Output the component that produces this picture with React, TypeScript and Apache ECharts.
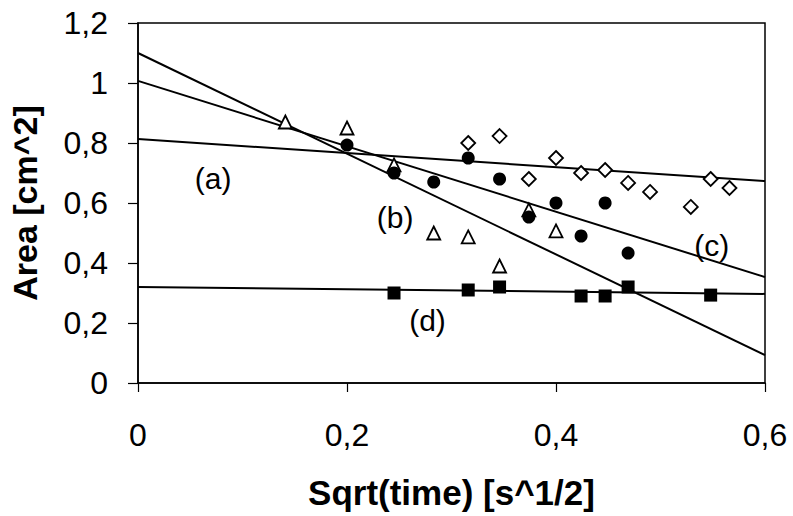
import React, { useEffect, useRef } from "react";
import * as echarts from "echarts";

// sqrt(time) values and measured areas
const triX = [0.141, 0.2, 0.245, 0.283, 0.316, 0.346, 0.374, 0.4];
const triY = [0.87, 0.85, 0.727, 0.5, 0.487, 0.39, 0.577, 0.507];

const circX = [0.2, 0.245, 0.283, 0.316, 0.346, 0.374, 0.4, 0.424, 0.447, 0.469];
const circY = [0.793, 0.7, 0.67, 0.75, 0.68, 0.553, 0.6, 0.49, 0.6, 0.433];

const diamX = [0.316, 0.346, 0.374, 0.4, 0.424, 0.447, 0.469, 0.49, 0.529, 0.548, 0.566];
const diamY = [0.8, 0.823, 0.68, 0.75, 0.7, 0.71, 0.667, 0.637, 0.587, 0.68, 0.65];

const sqX = [0.245, 0.316, 0.346, 0.424, 0.447, 0.469, 0.548];
const sqY = [0.3, 0.31, 0.32, 0.29, 0.29, 0.32, 0.293];

// fitted lines: [x0, y0, x1, y1]
const lineB = [0, 1.1, 0.6, 0.093];
const lineC = [0, 1.007, 0.6, 0.353];
const lineA = [0, 0.813, 0.6, 0.673];
const lineD = [0, 0.32, 0.6, 0.297];

const curveLabels = ["(a)", "(b)", "(c)", "(d)"];
const curveLabelX = [0.0718, 0.246, 0.549, 0.277];
const curveLabelY = [0.683, 0.553, 0.457, 0.21];

const xTicks = [0, 0.2, 0.4, 0.6];
const yTicks = [0, 0.2, 0.4, 0.6, 0.8, 1, 1.2];

const FONT = "'Liberation Sans', Arial, sans-serif";

const zip = (xs: number[], ys: number[]) => xs.map((x, i) => [x, ys[i]]);
const seg = (l: number[]) => [
  [l[0], l[1]],
  [l[2], l[3]],
];
const fmt = (v: number) => String(Math.round(v * 10) / 10).replace(".", ",");

export default function App() {
  const ref = useRef<HTMLDivElement>(null);
  useEffect(() => {
    if (!ref.current) return;
    const chart = echarts.init(ref.current, null, { renderer: "svg" });
    const lineStyle = { color: "#000", width: 2 };
    const lineSeries = (l: number[]) => ({
      type: "line",
      data: seg(l),
      showSymbol: false,
      symbol: "none",
      lineStyle,
      z: 2,
      silent: true,
    });
    const open = { color: "#fff", borderColor: "#000", borderWidth: 1.8, opacity: 1 };
    const filled = { color: "#000", opacity: 1 };
    chart.setOption({
      animation: false,
      backgroundColor: "#fff",
      grid: {
        left: 138,
        right: 28,
        top: 23,
        bottom: 133,
        show: true,
        borderColor: "#000",
        borderWidth: 1.5,
      },
      xAxis: {
        type: "value",
        min: xTicks[0],
        max: xTicks[xTicks.length - 1],
        interval: 0.2,
        name: "Sqrt(time) [s^1/2]",
        nameLocation: "middle",
        nameGap: 92,
        nameTextStyle: { fontFamily: FONT, fontSize: 35, fontWeight: "bold", color: "#000" },
        axisLine: { lineStyle: { color: "#000", width: 1.5 } },
        axisTick: { show: true, length: 9, lineStyle: { color: "#000", width: 1.2 } },
        axisLabel: {
          formatter: fmt,
          fontFamily: FONT,
          fontSize: 32,
          color: "#000",
          margin: 36,
        },
        splitLine: { show: false },
      },
      yAxis: {
        type: "value",
        min: yTicks[0],
        max: yTicks[yTicks.length - 1],
        interval: 0.2,
        name: "Area [cm^2]",
        nameLocation: "middle",
        nameRotate: 90,
        nameGap: 96,
        nameTextStyle: { fontFamily: FONT, fontSize: 34, fontWeight: "bold", color: "#000" },
        axisLine: { lineStyle: { color: "#000", width: 1.5 } },
        axisTick: { show: true, length: 10, lineStyle: { color: "#000", width: 1.2 } },
        axisLabel: {
          formatter: fmt,
          fontFamily: FONT,
          fontSize: 32,
          color: "#000",
          margin: 30,
        },
        splitLine: { show: false },
      },
      series: [
        lineSeries(lineA),
        lineSeries(lineB),
        lineSeries(lineC),
        lineSeries(lineD),
        {
          type: "scatter",
          data: zip(triX, triY),
          symbol: "triangle",
          symbolSize: 13,
          itemStyle: open,
          z: 3,
        },
        {
          type: "scatter",
          data: zip(diamX, diamY),
          symbol: "diamond",
          symbolSize: 14,
          itemStyle: open,
          z: 3,
        },
        {
          type: "scatter",
          data: zip(circX, circY),
          symbol: "circle",
          symbolSize: 13,
          itemStyle: filled,
          z: 4,
        },
        {
          type: "scatter",
          data: zip(sqX, sqY),
          symbol: "rect",
          symbolSize: 13,
          itemStyle: filled,
          z: 4,
        },
        {
          type: "scatter",
          data: curveLabels.map((n, i) => ({ name: n, value: [curveLabelX[i], curveLabelY[i]] })),
          symbolSize: 1,
          itemStyle: { color: "#fff", opacity: 1 },
          label: {
            show: true,
            position: "inside",
            formatter: (p: any) => p.name,
            fontFamily: FONT,
            fontSize: 30,
            color: "#000",
            opacity: 1,
          },
          z: 5,
          silent: true,
        },
      ],
    });
    return () => chart.dispose();
  }, []);
  return (
    <div
      ref={ref}
      style={{ position: "fixed", left: 0, top: 0, width: 793, height: 516, background: "#fff" }}
    />
  );
}
